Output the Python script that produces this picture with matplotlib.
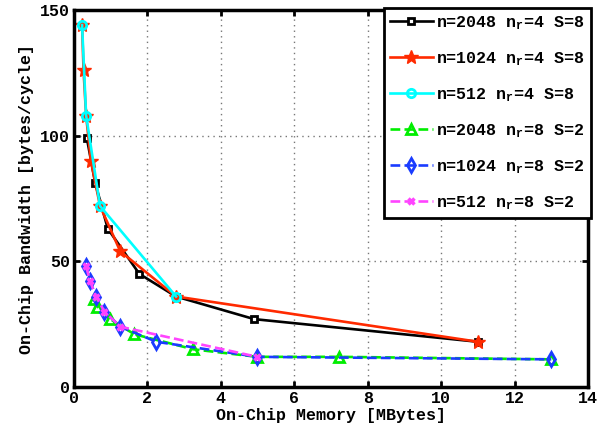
import matplotlib
matplotlib.use("Agg")
import matplotlib.pyplot as plt

# =========================
# DATA
# =========================
# n=2048 nr=4 S=8
mem_2048_4 = [0.35, 0.58, 0.92, 1.78, 2.78, 4.91, 11.0]
bw_2048_4 = [99, 81, 63, 45, 36, 27, 18]
# n=1024 nr=4 S=8
mem_1024_4 = [0.22, 0.26, 0.33, 0.46, 0.71, 1.26, 2.78, 11.0]
bw_1024_4 = [144, 126, 108, 90, 72, 54, 36, 18]
# n=512 nr=4 S=8
mem_512_4 = [0.22, 0.33, 0.71, 2.78]
bw_512_4 = [144, 108, 72, 36]
# n=2048 nr=8 S=2
mem_2048_8 = [0.55, 0.64, 0.99, 1.64, 3.25, 4.99, 7.22, 13.0]
bw_2048_8 = [35, 32, 27, 21, 15, 12, 12, 11]
# n=1024 nr=8 S=2
mem_1024_8 = [0.33, 0.44, 0.6, 0.83, 1.26, 2.24, 4.99, 13.0]
bw_1024_8 = [48, 42, 36, 30, 24, 18, 12, 11]
# n=512 nr=8 S=2
mem_512_8 = [0.33, 0.44, 0.6, 0.83, 1.26, 4.99]
bw_512_8 = [48, 42, 36, 30, 24, 12]

labels = [
    "n=2048 n$_r$=4 S=8",
    "n=1024 n$_r$=4 S=8",
    "n=512 n$_r$=4 S=8",
    "n=2048 n$_r$=8 S=2",
    "n=1024 n$_r$=8 S=2",
    "n=512 n$_r$=8 S=2",
]

# =========================
# STYLE
# =========================
plt.rcParams["font.family"] = ["Liberation Mono", "DejaVu Sans Mono"]
plt.rcParams["font.weight"] = "bold"
plt.rcParams["font.size"] = 12
plt.rcParams["mathtext.fontset"] = "custom"
plt.rcParams["mathtext.rm"] = "Liberation Mono:bold"
plt.rcParams["mathtext.it"] = "Liberation Mono:bold"
plt.rcParams["mathtext.default"] = "rm"

fig = plt.figure(figsize=(6.16, 4.32), dpi=100)
ax = fig.add_axes([74 / 616, 1 - 387 / 432, (588 - 74) / 616, (387 - 10) / 432])

lw = 1.9
ax.plot(mem_2048_4, bw_2048_4, color="black", lw=lw, marker="s", ms=5,
        mfc="white", mec="black", mew=2, label=labels[0])
ax.plot(mem_1024_4, bw_1024_4, color="#ff2a00", lw=lw, marker="*", ms=10,
        mfc="#ff2a00", mec="#ff2a00", label=labels[1])
ax.plot(mem_512_4, bw_512_4, color="#00ffff", lw=lw, marker="o", ms=6,
        mfc="none", mec="#00ffff", mew=2, label=labels[2])
ax.plot(mem_2048_8, bw_2048_8, color="#00ee00", lw=lw, ls="--", marker="^", ms=7,
        mfc="none", mec="#00ee00", mew=2, label=labels[3])
ax.plot(mem_1024_8, bw_1024_8, color="#1a3cff", lw=lw, ls="--", marker="d", ms=7,
        mfc="none", mec="#1a3cff", mew=2, label=labels[4])
ax.plot(mem_512_8, bw_512_8, color="#ff44ff", lw=lw, ls="--", marker="x", ms=5,
        mec="#ff44ff", mew=2.5, label=labels[5])

ax.set_xlim(0, 14)
ax.set_ylim(0, 150)
ax.set_xticks(range(0, 15, 2))
ax.set_yticks([0, 50, 100, 150])
ax.grid(True, linestyle=(0, (1, 3)), color="#777777", lw=1)
ax.tick_params(direction="in", top=True, right=True, width=2, length=4, pad=3)
for sp in ax.spines.values():
    sp.set_linewidth(2.5)

ax.set_xlabel("On-Chip Memory [MBytes]", fontweight="bold", labelpad=1)
ax.set_ylabel("On-Chip Bandwidth [bytes/cycle]", fontweight="bold", labelpad=4)

leg = ax.legend(loc="upper right", bbox_to_anchor=(1.005, 1.005), fancybox=False,
                framealpha=1, edgecolor="black", handlelength=2.6,
                handletextpad=0.2, labelspacing=1.1, borderpad=0.35,
                borderaxespad=0.0)
leg.get_frame().set_linewidth(2)

plt.savefig("out.png", dpi=100)
plt.close()
